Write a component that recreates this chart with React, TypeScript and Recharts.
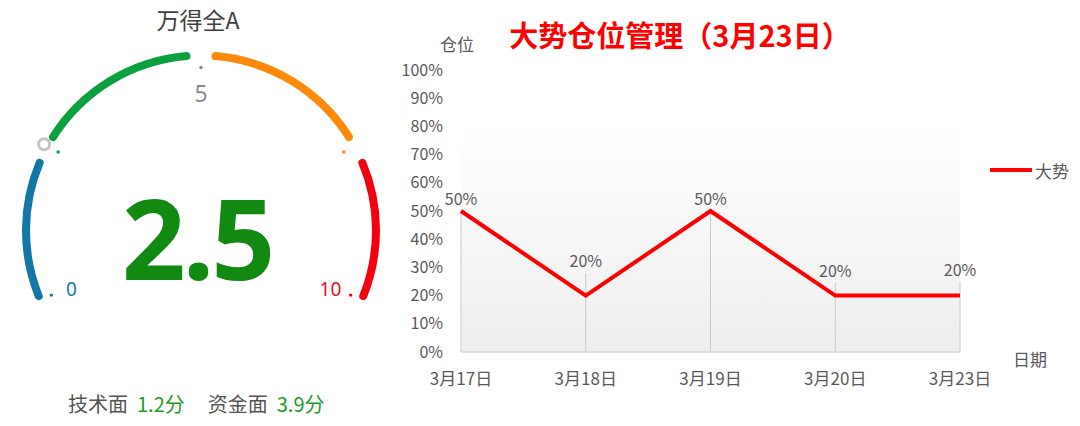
import React from "react";
import {
  PieChart,
  Pie,
  Cell,
  Customized,
  LineChart,
  Line,
  XAxis,
  YAxis,
  CartesianGrid,
  ErrorBar,
  LabelList,
  Legend,
} from "recharts";

// ---------- gauge data ----------
const gaugeTitle = "万得全A";
const gaugeScore = 2.5;
const gaugePointer = 2.3;
const gaugeBandNames = ["低", "偏低", "偏高", "高"];
const gaugeBandWidths = [2.3, 2.7, 2.7, 2.3];
const gaugeTickValues = [0, 5, 10];
const gaugeDotValues = [0, 2.3, 5, 7.7, 10];
const subLabels = ["技术面", "资金面"];
const subScores = [1.2, 3.9];

// ---------- line chart data ----------
const chartTitle = "大势仓位管理（3月23日）";
const yAxisTitle = "仓位";
const xAxisTitle = "日期";
const seriesName = "大势";
const dates = ["3月17日", "3月18日", "3月19日", "3月20日", "3月23日"];
const positions = [50, 20, 50, 20, 20];
const dropAbove = [0, 8, 0, 4.5, 5];
const yTicks = [0, 10, 20, 30, 40, 50, 60, 70, 80, 90, 100];

// ---------- styles ----------
const BAND_COLORS = ["#1277a6", "#0aa040", "#ff8a0a", "#f5000f"];
const DOT_COLORS = ["#1277a6", "#0aa040", "#888888", "#ff8a0a", "#f5000f"];
const TICK_COLORS = ["#1a7aa8", "#8c8c8c", "#e8102a"];
const TICK_SIZES = [19, 23, 19];
const GAUGE_W = 400;
const GAUGE_H = 426;
const GCX = 201;
const GCY = 230.5;
const GAUGE_START = 203.35;
const GAUGE_SPAN = 226.7;
const GAUGE_PAD = 6.85;

const gaugeData = gaugeBandNames.map((n, i) => ({ name: n, value: gaugeBandWidths[i] }));
const lineData = dates.map((d, i) => ({
  date: d,
  pos: positions[i],
  drop: [positions[i], dropAbove[i]],
  labelAt: positions[i] + dropAbove[i],
}));

const polar = (v: number, r: number) => {
  const a = ((GAUGE_START - (v / 10) * GAUGE_SPAN) * Math.PI) / 180;
  return [GCX + r * Math.cos(a), GCY - r * Math.sin(a)];
};

const GaugeDecor = () => {
  const [px, py] = polar(gaugePointer, 179);
  return (
    <g>
      {gaugeDotValues.map((v, i) => {
        const [x, y] = polar(v, 163);
        return <circle key={"d" + i} cx={x} cy={y} r={1.7} fill={DOT_COLORS[i]} />;
      })}
      {gaugeTickValues.map((v, i) => {
        const [x, y] = polar(v, 141);
        return (
          <text
            key={"t" + i}
            x={x}
            y={y + 3}
            textAnchor="middle"
            dominantBaseline="central"
            fontFamily='"Noto Sans", sans-serif'
            fontSize={TICK_SIZES[i]}
            fill={TICK_COLORS[i]}
          >
            {v}
          </text>
        );
      })}
      <circle cx={px} cy={py} r={5.5} fill="#ffffff" stroke="#c4c4c4" strokeWidth={3} />
      <text
        x={GCX - 4}
        y={280}
        textAnchor="middle"
        fontFamily='"Noto Sans", sans-serif'
        fontWeight={700}
        fontSize={112}
        letterSpacing={-3}
        fill="#128a12"
      >
        {gaugeScore}
      </text>
    </g>
  );
};

const renderLegend = (props: any) => {
  const { payload } = props;
  return (
    <div>
      {(payload || [])
        .filter((e: any) => e.type !== "none")
        .map((entry: any, i: number) => (
          <div key={i} style={{ display: "flex", alignItems: "center", height: 20 }}>
            <svg width={42} height={10}>
              <line x1={0} y1={5} x2={42} y2={5} stroke={entry.color} strokeWidth={4} />
            </svg>
            <span style={{ color: "#595959", fontSize: 17, marginLeft: 3, lineHeight: 1 }}>{entry.value}</span>
          </div>
        ))}
    </div>
  );
};

export default function App() {
  const font = '"Noto Sans CJK SC", "Noto Sans", sans-serif';
  return (
    <div
      style={{
        position: "absolute",
        left: 0,
        top: 0,
        width: 1080,
        height: 426,
        background: "#ffffff",
        fontFamily: font,
        overflow: "hidden",
      }}
    >
      {/* Gauge */}
      <div style={{ position: "absolute", left: 0, top: 0 }}>
        <PieChart width={GAUGE_W} height={GAUGE_H} margin={{ top: 0, right: 0, bottom: 0, left: 0 }}>
          <Pie
            data={gaugeData}
            dataKey="value"
            nameKey="name"
            cx={GCX}
            cy={GCY}
            innerRadius={171}
            outerRadius={179}
            startAngle={GAUGE_START}
            endAngle={GAUGE_START - GAUGE_SPAN}
            paddingAngle={GAUGE_PAD}
            cornerRadius={4}
            stroke="none"
            isAnimationActive={false}
          >
            {gaugeData.map((d, i) => (
              <Cell key={d.name} fill={BAND_COLORS[i]} />
            ))}
          </Pie>
          <Customized component={GaugeDecor} />
        </PieChart>
      </div>
      <div
        style={{
          position: "absolute",
          left: 0,
          top: 8,
          width: 396,
          textAlign: "center",
          fontSize: 23,
          lineHeight: 1,
          color: "#404040",
        }}
      >
        {gaugeTitle}
      </div>
      <div style={{ position: "absolute", left: 68, top: 394, fontSize: 20, lineHeight: 1, whiteSpace: "nowrap" }}>
        <span style={{ color: "#555555" }}>{subLabels[0]}</span>
        <span style={{ color: "#1f9a2a", marginLeft: 9 }}>{subScores[0]}分</span>
        <span style={{ color: "#555555", marginLeft: 23 }}>{subLabels[1]}</span>
        <span style={{ color: "#1f9a2a", marginLeft: 9 }}>{subScores[1]}分</span>
      </div>

      {/* Line chart */}
      <div style={{ position: "absolute", left: 380, top: 0 }}>
        <LineChart width={700} height={426} data={lineData} margin={{ top: 70, right: 120, bottom: 44, left: 0 }}>
          <defs>
            <linearGradient id="plotBg" x1="0" y1="0" x2="0" y2="1">
              <stop offset="0%" stopColor="#ffffff" />
              <stop offset="20%" stopColor="#ffffff" />
              <stop offset="100%" stopColor="#eeeeee" />
            </linearGradient>
          </defs>
          <CartesianGrid horizontal={false} vertical={false} fill="url(#plotBg)" stroke="none" />
          <XAxis
            dataKey="date"
            tickLine={false}
            axisLine={{ stroke: "#d6d6d6", strokeWidth: 1.5 }}
            tick={{ fill: "#595959", fontSize: 17 }}
            tickMargin={15}
            interval={0}
          />
          <YAxis
            domain={[0, 100]}
            ticks={yTicks}
            tickFormatter={(v: number) => `${v}%`}
            width={81}
            axisLine={false}
            tickLine={false}
            tick={{ fill: "#595959", fontSize: 16 }}
            tickMargin={12}
            interval={0}
          />
          <Legend
            layout="vertical"
            align="center"
            verticalAlign="middle"
            wrapperStyle={{ left: 610, top: 160, width: 90 }}
            content={renderLegend}
          />
          <Line
            dataKey="pos"
            name={seriesName}
            stroke="#ff0000"
            strokeWidth={4}
            dot={false}
            activeDot={false}
            isAnimationActive={false}
          >
            <ErrorBar dataKey="drop" width={0} stroke="#c8c8c8" strokeWidth={1} direction="y" />
          </Line>
          <Line
            dataKey="labelAt"
            legendType="none"
            stroke="none"
            dot={false}
            activeDot={false}
            isAnimationActive={false}
          >
            <LabelList
              dataKey="pos"
              position="top"
              offset={6}
              formatter={(v: any) => `${v}%`}
              fill="#595959"
              fontSize={16}
            />
          </Line>
        </LineChart>
      </div>
      <div
        style={{
          position: "absolute",
          left: 380,
          top: 20,
          width: 600,
          textAlign: "center",
          fontSize: 29,
          fontWeight: 700,
          lineHeight: 1,
          color: "#ff0000",
        }}
      >
        {chartTitle}
      </div>
      <div style={{ position: "absolute", left: 440, top: 35, fontSize: 17, lineHeight: 1, color: "#595959" }}>
        {yAxisTitle}
      </div>
      <div style={{ position: "absolute", left: 1013, top: 350, fontSize: 17, lineHeight: 1, color: "#595959" }}>
        {xAxisTitle}
      </div>
    </div>
  );
}
